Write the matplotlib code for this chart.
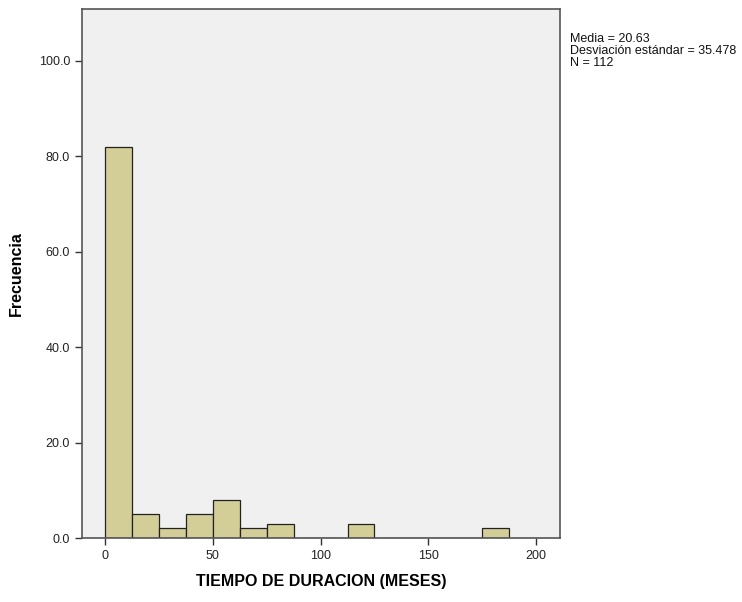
import matplotlib.pyplot as plt
from matplotlib.ticker import FormatStrFormatter

plt.rcParams["font.family"] = ["Liberation Sans", "DejaVu Sans"]

# histogram bins (months) and counts
bin_edges = [0, 12.5, 25, 37.5, 50, 62.5, 75, 87.5, 100, 112.5, 125,
             137.5, 150, 162.5, 175, 187.5]
counts = [82, 5, 2, 5, 8, 2, 3, 0, 0, 3, 0, 0, 0, 0, 2]
x_ticks = [0, 50, 100, 150, 200]
y_ticks = [0, 20, 40, 60, 80, 100]
stats_text = "Media = 20.63\nDesviación estándar = 35.478\nN = 112"

fig = plt.figure(figsize=(7.42, 6.02), dpi=100)
ax = fig.add_axes([0.1105, 0.1063, 0.644, 0.879])
ax.set_facecolor("#f0f0f0")

lefts = bin_edges[:-1]
widths = [b - a for a, b in zip(bin_edges[:-1], bin_edges[1:])]
ax.bar(lefts, counts, width=widths, align="edge", color="#d3ce97",
       edgecolor="#222222", linewidth=0.9)

ax.set_xlim(-10.7, 211)
ax.set_ylim(0, 110.9)
ax.set_xticks(x_ticks)
ax.set_yticks(y_ticks)
ax.yaxis.set_major_formatter(FormatStrFormatter("%.1f"))
ax.tick_params(direction="out", length=5, width=1, colors="#333333",
               labelsize=9, labelcolor="#222222")
for s in ax.spines.values():
    s.set_color("#555555")
    s.set_linewidth(1.2)

ax.set_xlabel("TIEMPO DE DURACION (MESES)", fontsize=11.5,
              fontweight="bold", labelpad=9)
ax.set_ylabel("Frecuencia", fontsize=11.5, fontweight="bold", labelpad=11)

fig.text(570 / 742, 1 - 33 / 602, stats_text, fontsize=9, va="top",
         ha="left", linespacing=0.98, color="#111111")

fig.savefig("out.png", dpi=100)
